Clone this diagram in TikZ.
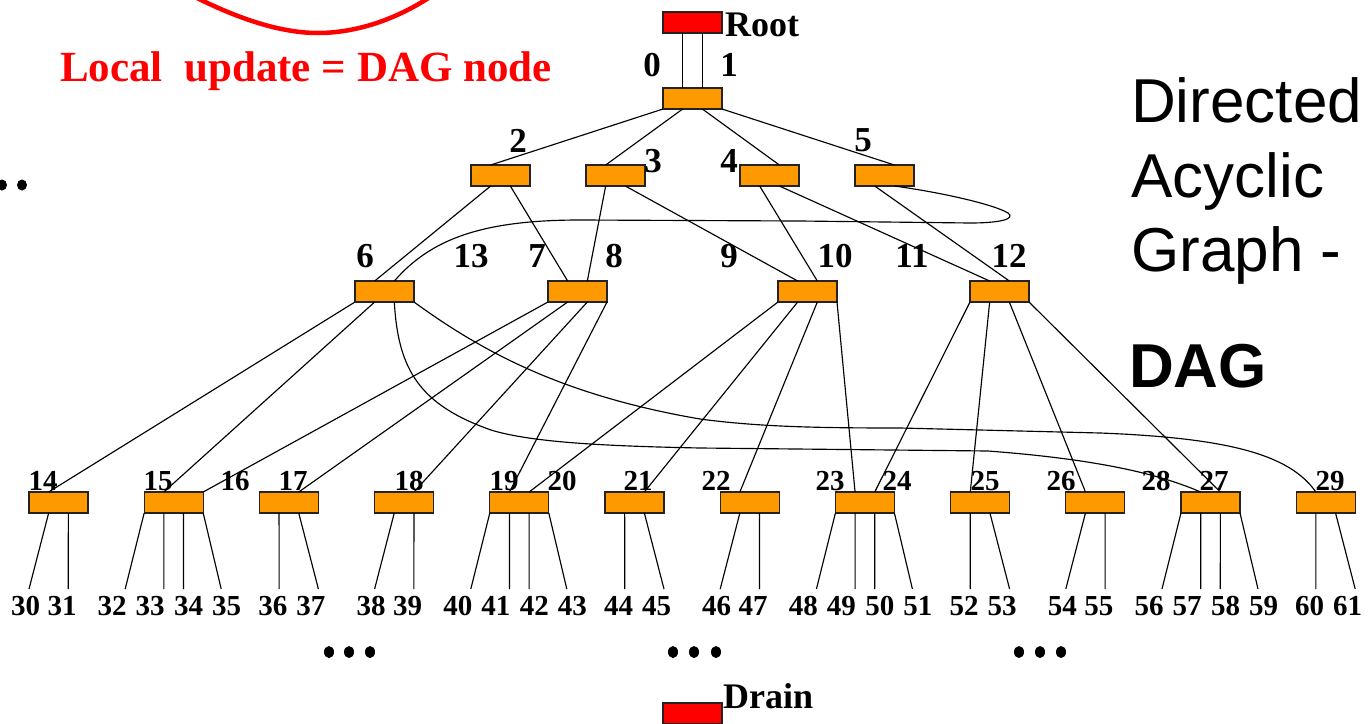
\documentclass[tikz,border=0pt]{standalone}
\usepackage{fontspec}
\setmainfont{Liberation Serif}
\newfontfamily\dagSans{Liberation Sans}
\usetikzlibrary{calc}

\definecolor{boxorange}{RGB}{255,153,0}
\definecolor{boxline}{RGB}{35,35,35}
\definecolor{hot}{RGB}{255,0,0}

\newcommand\dagNumFont{\fontsize{35}{35}\selectfont\bfseries}
\newcommand\dagLeafFont{\fontsize{29}{29}\selectfont\bfseries}
\newcommand\dagTagFont{\fontsize{36}{36}\selectfont\bfseries}
\newcommand\dagNoteFont{\fontsize{43}{43}\selectfont\bfseries}
\newcommand\dagSideFont{\dagSans\fontsize{62}{62}\selectfont}
\newcommand\dagSideBold{\dagSans\fontsize{62}{62}\selectfont\bfseries}

\tikzset{
  box/.style={draw=boxline, fill=boxorange, line width=1.3pt,
    minimum width=59pt, minimum height=21pt, inner sep=0pt, outer sep=0pt,
    anchor=north west},
  endbox/.style={box, fill=hot},
  edge/.style={line width=1.15pt, draw=black},
  lbl/.style={font=\dagNumFont, anchor=base, inner sep=0pt},
  leaf/.style={font=\dagLeafFont, anchor=base, inner sep=0pt},
  tag/.style={font=\dagTagFont, anchor=base west, inner sep=0pt},
  side/.style={font=\dagSideFont, anchor=base west, inner sep=0pt},
}

% a box together with the points at one and two thirds of its top and bottom sides
\newcommand\mkbox[4][box]{%
  \node[#1] (#2) at (#3,#4) {};
  \coordinate (#2-t1) at ($(#2.north west)!1/3!(#2.north east)$);
  \coordinate (#2-t2) at ($(#2.north west)!2/3!(#2.north east)$);
  \coordinate (#2-b1) at ($(#2.south west)!1/3!(#2.south east)$);
  \coordinate (#2-b2) at ($(#2.south west)!2/3!(#2.south east)$);
}

\begin{document}
\begin{tikzpicture}[x=1pt,y=-1pt]
\useasboundingbox (0,0) rectangle (1371,723);
\fill[white] (0,0) rectangle (1371,723);

% red remark at the top left
\draw[hot, line width=4.5pt] (195,-3) .. controls (245,22) and (285,33) .. (318,33)
  .. controls (355,33) and (395,20) .. (430,-3);
\node[font=\dagNoteFont, text=hot, anchor=base west, inner sep=0pt] (note) at (60,81)
  {Local\ \ update = DAG node};

% side caption
\node[side] (cap1) at (1131,122) {Directed};
\node[side] (cap2) at (1131,197) {Acyclic};
\node[side] (cap3) at (1131,271) {Graph -};
\node[font=\dagSideBold, anchor=base west, inner sep=0pt] (cap4) at (1129,387) {DAG};

% boxes
\mkbox[endbox]{root}{663}{12}
\mkbox{N0}{663}{88}
\mkbox{A}{471}{165}
\mkbox{B}{586}{165}
\mkbox{C}{740}{165}
\mkbox{D}{855}{165}
\mkbox{E}{355}{281}
\mkbox{F}{548}{281}
\mkbox{G}{778}{281}
\mkbox{H}{970}{281}
\foreach \i in {0,...,11} {
  \pgfmathsetmacro\lx{29+115.2*\i}
  \mkbox{L\i}{\lx}{492}
}
\node[endbox] (drain) at (663,703) {};

\node[tag] (rootlbl) at (725,36) {Root};
\node[tag] (drainlbl) at (723,708) {Drain};

% root to the first box
\draw[edge] (root-b1) -- (N0-t1);
\draw[edge] (root-b2) -- (N0-t2);
\node[lbl] (l0) at (652,76) {0};
\node[lbl] (l1) at (729,76) {1};

% first level
\draw[edge] (N0.south west) -- (A-t1);
\draw[edge] (N0-b1) -- (B-t1);
\draw[edge] (N0-b2) -- (C-t2);
\draw[edge] (N0.south east) -- (D-t2);
\node[lbl] (l2) at (518,152) {2};
\node[lbl] (l3) at (653,172) {3};
\node[lbl] (l4) at (729,172) {4};
\node[lbl] (l5) at (863,151) {5};

% second level
\draw[edge] (A-b1) -- (E-t1);
\draw[edge] (A-b2) -- (F-t1);
\draw[edge] (B-b1) -- (F-t2);
\draw[edge] (B-b2) -- (G-t1);
\draw[edge] (C-b1) -- (G-t2);
\draw[edge] (C-b2) -- (H-t1);
\draw[edge] (D-b1) -- (H-t2);
\draw[edge] (D-b2) .. controls (945,193) and (995,205) .. (1008,213)
  .. controls (1016,219) and (1000,223) .. (970,223) -- (800,221) -- (580,220)
  .. controls (480,220) and (430,240) .. (E-t2);
\foreach \n/\x in {6/365, 13/471, 7/537, 8/614, 9/729, 10/835, 11/912, 12/1009}
  \node[lbl] (l\n) at (\x,267) {\n};

% third level
\draw[edge] (E.south west) -- (L0-t1);
\draw[edge] (E-b1) -- (L1-t1);
\draw[edge] (E-b2) .. controls (398,370) and (420,405) .. (491,430)
  .. controls (530,442) and (600,446) .. (700,448) -- (988,451)
  .. controls (1080,458) and (1150,470) .. (L10-t1);
\draw[edge] (E.south east) .. controls (480,350) and (560,395) .. (700,419)
  .. controls (760,427) and (820,428) .. (900,428) -- (1100,433)
  .. controls (1230,438) and (1290,455) .. (L11-t1);
\draw[edge] (F.south west) -- (L1.north east);
\draw[edge] (F-b1) -- (L2-t2);
\draw[edge] (F-b2) -- (L3-t2);
\draw[edge] (F.south east) -- (L4-t1);
\draw[edge] (G.south west) -- (L4-t2);
\draw[edge] (G-b1) -- (L5-t2);
\draw[edge] (G-b2) -- (L6-t1);
\draw[edge] (G.south east) -- (L7-t1);
\draw[edge] (H.south west) -- (L7-t2);
\draw[edge] (H-b1) -- (L8-t1);
\draw[edge] (H-b2) -- (L9-t1);
\draw[edge] (H.south east) -- (L10-t2);
\foreach \n/\x in {14/43, 15/158, 16/235, 17/293, 18/409, 19/504, 20/562, 21/638,
                   22/716, 23/830, 24/897, 25/985, 26/1061, 28/1156, 27/1214, 29/1330}
  \node[leaf] (l\n) at (\x,490) {\n};

% leaves: two children, the left one slanting
\foreach \i/\n/\m in {0/30/31, 3/38/39, 6/46/47, 9/54/55} {
  \pgfmathsetmacro\lx{29+115.2*\i}
  \coordinate (e\n) at (\lx,589);
  \coordinate (e\m) at (\lx+39.3,589);
  \draw[edge] (L\i-b1) -- (e\n);
  \draw[edge] (L\i-b2) -- (e\m);
  \node[leaf] (k\n) at (\lx-3.5,615) {\n};
  \node[leaf] (k\m) at (\lx+33,615) {\m};
}
% leaves: two children, the right one slanting
\foreach \i/\n/\m in {2/36/37, 5/44/45, 8/52/53, 11/60/61} {
  \pgfmathsetmacro\lx{29+115.2*\i}
  \coordinate (e\n) at (\lx+19.7,589);
  \coordinate (e\m) at (\lx+59,589);
  \draw[edge] (L\i-b1) -- (e\n);
  \draw[edge] (L\i-b2) -- (e\m);
  \node[leaf] (k\n) at (\lx+13.5,615) {\n};
  \node[leaf] (k\m) at (\lx+51.5,615) {\m};
}
% leaves: four children
\foreach \i/\a/\b/\c/\d in {1/32/33/34/35, 4/40/41/42/43, 7/48/49/50/51, 10/56/57/58/59} {
  \pgfmathsetmacro\lx{29+115.2*\i}
  \coordinate (e\a) at (\lx-19,589);
  \coordinate (e\b) at (\lx+19.7,589);
  \coordinate (e\c) at (\lx+39.3,589);
  \coordinate (e\d) at (\lx+77,589);
  \draw[edge] (L\i.south west) -- (e\a);
  \draw[edge] (L\i-b1) -- (e\b);
  \draw[edge] (L\i-b2) -- (e\c);
  \draw[edge] (L\i.south east) -- (e\d);
  \node[leaf] (k\a) at (\lx-32,615) {\a};
  \node[leaf] (k\b) at (\lx+6,615) {\b};
  \node[leaf] (k\c) at (\lx+44.5,615) {\c};
  \node[leaf] (k\d) at (\lx+82.5,615) {\d};
}

% ellipsis dots
\foreach \x in {2,22} \fill (\x,185) ellipse [x radius=5pt, y radius=5.5pt];
\foreach \x in {329,349,370, 673,694,716, 1019,1040,1061}
  \fill (\x,652) ellipse [x radius=5pt, y radius=6pt];
\end{tikzpicture}
\end{document}
